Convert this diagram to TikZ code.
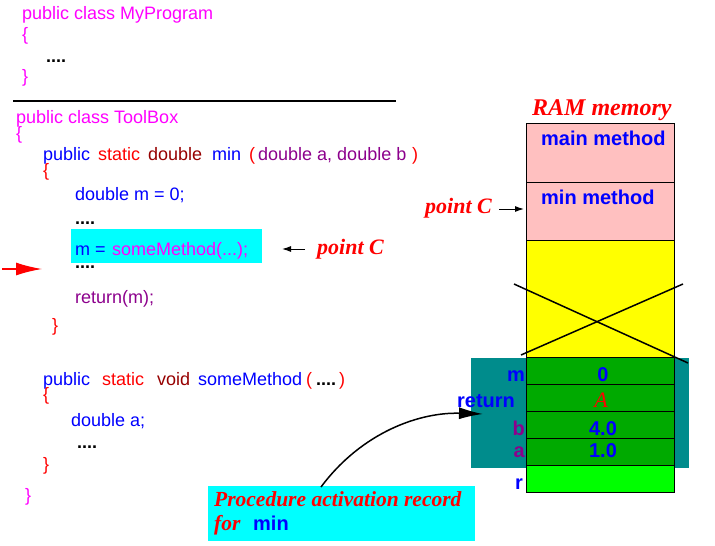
\documentclass[tikz,border=0pt]{standalone}
\usepackage{fontspec}
\setmainfont{Liberation Sans}
\newfontfamily\timesfont{Liberation Serif}
\usetikzlibrary{arrows.meta}
\definecolor{codemag}{RGB}{255,0,255}
\definecolor{codeblue}{RGB}{0,0,255}
\definecolor{codered}{RGB}{255,0,0}
\definecolor{codedred}{RGB}{150,0,0}
\definecolor{codepurple}{RGB}{140,0,140}
\definecolor{hilite}{RGB}{0,255,255}
\definecolor{rampink}{RGB}{255,192,192}
\definecolor{ramyellow}{RGB}{255,255,0}
\definecolor{ramgreen}{RGB}{0,170,0}
\definecolor{ramlime}{RGB}{0,255,0}
\definecolor{ramteal}{RGB}{0,140,140}
\newcommand{\codesize}{\fontsize{18}{20}\selectfont}
\newcommand{\memsize}{\bfseries\fontsize{20}{22}\selectfont}
\newcommand{\notesize}{\timesfont\bfseries\itshape\fontsize{22}{24}\selectfont}

\begin{document}
\begin{tikzpicture}[x=1pt, y=-1pt,
    code/.style={anchor=base west, inner sep=0pt, font=\codesize},
    dots/.style={anchor=base west, inner sep=0pt, font=\bfseries\codesize},
    memlabel/.style={anchor=base, inner sep=0pt, font=\memsize, text=codeblue},
    note/.style={anchor=base west, inner sep=0pt, font=\notesize, text=codered},
    cell/.style={draw=black, line width=1pt, minimum width=148pt, inner sep=0pt, anchor=north west},
    pointer/.style={-{Latex[length=9pt, width=6pt]}, line width=1pt}]
    \useasboundingbox (0,0) rectangle (715,546);

    % class MyProgram
    \node[code, text=codemag] (cls1) at (22,19.5) {public class MyProgram};
    \node[code, text=codemag] (cls1open) at (22,40) {\{};
    \node[dots] (cls1dots) at (46,62) {....};
    \node[code, text=codemag] (cls1close) at (22,82) {\}};
    \draw[line width=2pt] (13,100.5) -- (396,100.5);

    % class ToolBox
    \node[code, text=codemag] (cls2) at (16,123) {public class ToolBox};
    \node[code, text=codemag] (cls2open) at (16,139) {\{};
    \node[code, text=codeblue] (m1a) at (43,160) {public};
    \node[code, text=codered] (m1b) at (98,160) {static};
    \node[code, text=codedred] (m1c) at (148,160) {double};
    \node[code, text=codeblue] (m1d) at (212,160) {min};
    \node[code, text=codered] (m1e) at (249,160) {(};
    \node[code, text=codepurple] (m1f) at (258,160) {double a, double b};
    \node[code, text=codered] (m1g) at (412,160) {)};
    \node[code, text=codered] (m1open) at (43,176) {\{};
    \node[code, text=codeblue] (m1l1) at (75,200) {double m = 0;};
    \node[dots] (m1l2) at (75,224) {....};
    \fill[hilite] (71,229) rectangle (262,263);
    \node[code, text=codeblue] (m1l3a) at (75,255) {m =};
    \node[code, text=codemag] (m1l3b) at (112,255) {someMethod(...);};
    \node[dots] (m1l4) at (75,268) {....};
    \node[code, text=codepurple] (m1l5) at (75,303) {return(m);};
    \node[code, text=codered] (m1close) at (52,331) {\}};

    \coordinate (runtail) at (2,269);
    \coordinate (runhead) at (42,269);
    \draw[-{Latex[length=26pt, width=13pt]}, codered, line width=1.5pt] (runtail) -- (runhead);

    \node[note] (ptc1) at (317,254) {point C};
    \coordinate (ptc1tip) at (282,249);
    \draw[pointer] (ptc1.west |- ptc1tip) ++(-12,0) coordinate (ptc1tail) -- (ptc1tip);

    % someMethod
    \node[code, text=codeblue] (m2a) at (43,385) {public};
    \node[code, text=codered] (m2b) at (102,385) {static};
    \node[code, text=codedred] (m2c) at (157,385) {void};
    \node[code, text=codeblue] (m2d) at (198,385) {someMethod};
    \node[code, text=codered] (m2e) at (306,385) {(};
    \node[dots] (m2f) at (316,385) {....};
    \node[code, text=codered] (m2g) at (339,385) {)};
    \node[code, text=codered] (m2open) at (43,400) {\{};
    \node[code, text=codeblue] (m2l1) at (71,426) {double a;};
    \node[dots] (m2l2) at (77,448) {....};
    \node[code, text=codered] (m2close) at (43,470) {\}};
    \node[code, text=codemag] (cls2close) at (25,501) {\}};

    % RAM memory
    \node[note, font=\timesfont\bfseries\itshape\fontsize{24}{26}\selectfont] (ramtitle) at (532,115) {RAM memory};
    \fill[ramteal] (471,358) rectangle (689,468);
    \node[cell, fill=rampink, minimum height=59pt] (main) at (526,123) {};
    \node[cell, fill=rampink, minimum height=58pt] (minm) at (526,182) {};
    \node[cell, fill=ramyellow, minimum height=117pt] (free) at (526,240) {};
    \node[cell, fill=ramgreen, minimum height=27pt] (cm) at (526,357) {};
    \node[cell, fill=ramgreen, minimum height=27pt] (cret) at (526,384) {};
    \node[cell, fill=ramgreen, minimum height=27pt] (cb) at (526,411) {};
    \node[cell, fill=ramgreen, minimum height=27pt] (ca) at (526,438) {};
    \node[cell, fill=ramlime, minimum height=27pt] (cr) at (526,465) {};
    \draw[line width=1.5pt] (514,284) -- (688,363);
    \draw[line width=1.5pt] (521,355) -- (683,284);

    \node[memlabel, anchor=base west] (mainlbl) at (541,145) {main method};
    \node[memlabel, anchor=base west] (minlbl) at (541,204) {min method};
    \node[memlabel, anchor=base east] (lm) at (525,381) {m};
    \node[memlabel] (lret) at (486,407) {return};
    \node[memlabel, anchor=base east, text=codepurple] (lb) at (525,435) {b};
    \node[memlabel, anchor=base east, text=codepurple] (la) at (525,457) {a};
    \node[memlabel, anchor=base east] (lr) at (523,489) {r};
    \node[memlabel] (vm) at (603,381) {0};
    \node[memlabel, font=\timesfont\itshape\fontsize{22}{24}\selectfont, text=codered] (vret) at (601,407) {A};
    \node[memlabel] (vb) at (603,435) {4.0};
    \node[memlabel] (va) at (603,457) {1.0};

    \node[note, anchor=base west] (ptc2) at (425,213) {point C};
    \coordinate (ptc2tip) at (524,209);
    \draw[pointer] (499,209) coordinate (ptc2tail) -- (ptc2tip);

    % activation record note
    \fill[hilite] (208,486) rectangle (475,541);
    \node[note, font=\timesfont\bfseries\itshape\fontsize{21.5}{24}\selectfont] (rec1) at (214,506) {Procedure activation record};
    \node[note, font=\timesfont\bfseries\itshape\fontsize{21.5}{24}\selectfont] (rec2) at (214,530) {for};
    \node[note, font=\bfseries\fontsize{20}{22}\selectfont, text=codeblue] (rec3) at (253,530) {min};
    \coordinate (rectail) at (321,487);
    \coordinate (rettip) at (483,414);
    \draw[-{Latex[length=24pt, width=12pt]}, line width=1.5pt] (rectail) .. controls (362,432) and (420,412) .. (rettip);
\end{tikzpicture}
\end{document}
